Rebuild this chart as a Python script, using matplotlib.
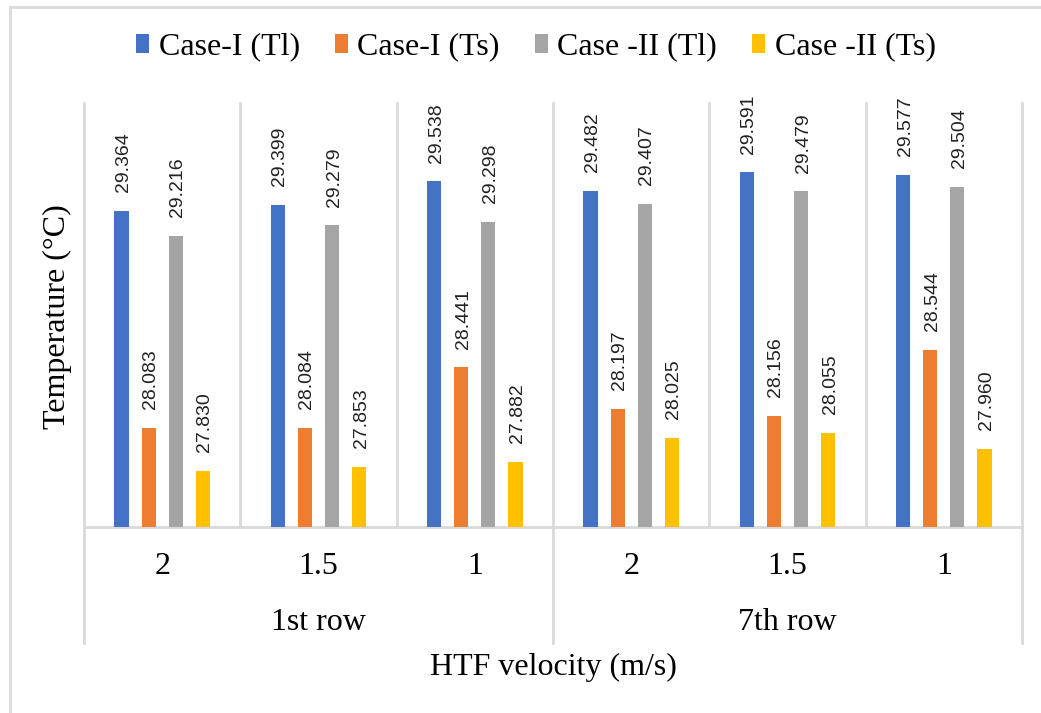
import matplotlib.pyplot as plt
from matplotlib.patches import Rectangle
import numpy as np

# velocities per row and the two row groups
velocity = ['2', '1.5', '1', '2', '1.5', '1']
rows = ['1st row', '7th row']
series = ['Case-I (Tl)', 'Case-I (Ts)', 'Case -II (Tl)', 'Case -II (Ts)']
case1_tl = [29.364, 29.399, 29.538, 29.482, 29.591, 29.577]
case1_ts = [28.083, 28.084, 28.441, 28.197, 28.156, 28.544]
case2_tl = [29.216, 29.279, 29.298, 29.407, 29.479, 29.504]
case2_ts = [27.830, 27.853, 27.882, 28.025, 28.055, 27.960]
colors = ['#4472C4', '#ED7D31', '#A5A5A5', '#FFC000']

serif = 'Liberation Serif'
grid_c = '#D9D9D9'

fig = plt.figure(figsize=(10.41, 7.13), dpi=100)
ax = fig.add_axes([84 / 1041, 186 / 713, 938 / 1041, 424 / 713])

x = np.arange(len(velocity))
offsets = [-0.26, -0.087, 0.087, 0.26]
width = 0.09
for vals, off, c, name in zip([case1_tl, case1_ts, case2_tl, case2_ts], offsets, colors, series):
    bars = ax.bar(x + off, vals, width, color=c, label=name, zorder=3)
    for b, v in zip(bars, vals):
        ax.annotate(f'{v:.3f}', (b.get_x() + b.get_width() / 2, v),
                    xytext=(1.5, 13.5), textcoords='offset points',
                    rotation=90, ha='center', va='bottom',
                    fontsize=14, family='Liberation Sans', color='#222222')

ax.set_xlim(-0.5, 5.5)
ax.set_ylim(27.5, 30.0)
ax.set_yticks([])
ax.set_xticks([])
for s in ['top', 'left', 'right']:
    ax.spines[s].set_visible(False)
ax.spines['bottom'].set_color(grid_c)
ax.spines['bottom'].set_linewidth(2)

# separators between velocity groups
tr = ax.get_xaxis_transform()
for i in range(len(velocity) + 1):
    xb = i - 0.5
    lo = -0.274 if i % 3 == 0 else 0
    ax.plot([xb, xb], [lo, 1], transform=tr, color=grid_c, lw=2,
            clip_on=False, zorder=1)

for i, lab in enumerate(velocity):
    ax.text(i, -0.094, lab, transform=tr, ha='center', va='center',
            fontsize=23, family=serif)
for j, lab in enumerate(rows):
    ax.text(3 * j + 1, -0.226, lab, transform=tr, ha='center', va='center',
            fontsize=23, family=serif)

fig.text(553 / 1041, 1 - 667 / 713, 'HTF velocity (m/s)', ha='center',
         va='center', fontsize=23, family=serif)
fig.text(57 / 1041, 1 - 317 / 713, 'Temperature (°C)', ha='center',
         va='center', rotation=90, fontsize=23, family=serif)

fig.legend(loc='center', bbox_to_anchor=(536 / 1041, 1 - 47 / 713), ncol=4,
           frameon=False, prop={'family': serif, 'size': 23},
           handlelength=0.4, handleheight=0.55, handletextpad=0.3,
           columnspacing=1.1)

# outer chart border
fig.patches.append(Rectangle((10 / 1041, -0.1), 1.2, 1 - 7 / 713 + 0.1,
                             transform=fig.transFigure, fill=False,
                             edgecolor=grid_c, lw=2))

fig.savefig('out.png', dpi=100)
